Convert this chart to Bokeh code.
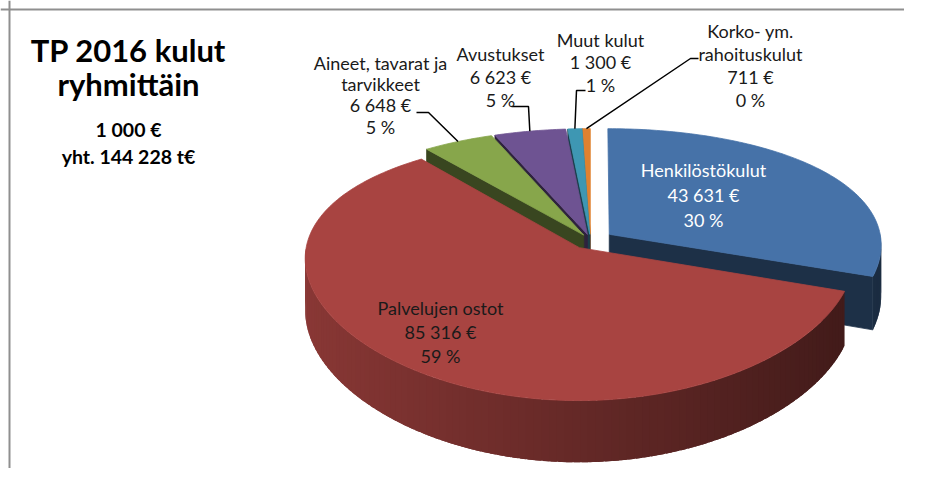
import math
from bokeh.plotting import figure
from bokeh.models import ColumnDataSource, Range1d, Span
from bokeh.embed import file_html
from bokeh.resources import INLINE
from bokeh.core.properties import value

# ---------------- data ----------------
categories = ["Henkilöstökulut", "Palvelujen ostot", "Aineet, tavarat ja tarvikkeet",
              "Avustukset", "Muut kulut", "Korko- ym. rahoituskulut"]
label_names = [["Henkilöstökulut"], ["Palvelujen ostot"], ["Aineet, tavarat ja", "tarvikkeet"],
               ["Avustukset"], ["Muut kulut"], ["Korko- ym.", "rahoituskulut"]]
values = [43631, 85316, 6648, 6623, 1300, 711]
title_lines = ["TP 2016 kulut", "ryhmittäin", "1 000 €", "yht. 144 228 t€"]

# ---------------- style / layout ----------------
colors = ["#4672A8", "#A84441", "#87A64B", "#6E5392", "#3E97B3", "#E0812F"]
explode = [0.085, 0.07, 0.05, 0.05, 0.05, 0.05]
CX, CY, RX, RY, PX, PY, DEPTH = 590, 240, 272, 125, 0.08, 0.165, 51
FONT = "Lato"
W, H = 904, 468
LBL_SIZE, T1_SIZE, T2_SIZE = 18, 31, 19.5
BASE_FIX = 0.43  # renderer places glyph baseline ~0.43em below the anchor
# label anchor: x, first baseline, line step, colour
label_layout = [(703, 177, 25, "white"), (440, 315, 24, "#1a1a1a"), (380, 70, 21.3, "#1a1a1a"),
                (500, 61, 23, "#1a1a1a"), (600, 47, 22.5, "#1a1a1a"), (750, 38, 23, "#1a1a1a")]
# leader line start points (label side), the end lies on the slice rim
leader_start = {2: [(416, 112), (428, 112)], 3: [(511, 106), (528, 106)],
                4: [(585, 90), (576, 90)], 5: [(698, 58), (690, 58)]}


def proj(X, Z, d):
    kx = 1.0 / (1.0 + PX * Z)
    ky = 1.0 / (1.0 + PY * Z)
    return CX + RX * X * kx, CY - RY * Z * ky + DEPTH * d * ky


def shade(hexc, f):
    r, g, b = int(hexc[1:3], 16), int(hexc[3:5], 16), int(hexc[5:7], 16)
    return "#%02x%02x%02x" % tuple(max(0, min(255, int(round(c * f)))) for c in (r, g, b))


total = sum(values)
angles = []
acc = 0.0
for v in values:
    a0 = acc / total * 360.0
    acc += v
    a1 = acc / total * 360.0
    angles.append((a0, a1))

xs, ys, cs, la = [], [], [], []


def add(poly, c, outline=1.0):
    xs.append([p[0] for p in poly])
    ys.append([p[1] for p in poly])
    cs.append(c)
    la.append(outline)


def sl_geom(i):
    a0, a1 = angles[i]
    mid = math.radians((a0 + a1) / 2)
    ox, oz = explode[i] * math.sin(mid), explode[i] * math.cos(mid)

    def rim(t, d):
        r = math.radians(t)
        return proj(math.sin(r) + ox, math.cos(r) + oz, d)

    def cen(d):
        return proj(ox, oz, d)
    return a0, a1, rim, cen


def mid_cos(i):
    a0, a1 = angles[i]
    return math.cos(math.radians((a0 + a1) / 2))


order = sorted(range(len(values)), key=lambda i: -mid_cos(i))
for i in order:
    a0, a1, rim, cen = sl_geom(i)
    col = colors[i]
    face = shade(col, 0.42)
    # radial faces that face the viewer
    if math.sin(math.radians(a0)) < -1e-9:
        add([cen(0), rim(a0, 0), rim(a0, 1), cen(1)], face)
    if math.sin(math.radians(a1)) > 1e-9:
        add([cen(0), rim(a1, 0), rim(a1, 1), cen(1)], face)
    # outer curved side (front half), shaded strips
    s0, s1 = max(a0, 90.0), min(a1, 270.0)
    if s1 > s0:
        n = max(2, int((s1 - s0) / 1.5))
        step = (s1 - s0) / n
        for j in range(n):
            t0 = s0 + step * j
            t1 = min(s1, t0 + step * 1.8)
            tm = math.radians(t0 + step / 2)
            f = 0.60 - 0.22 * math.sin(tm)
            m = 4
            top = [rim(t0 + (t1 - t0) * q / m, 0) for q in range(m + 1)]
            bot = [rim(t1 - (t1 - t0) * q / m, 1) for q in range(m + 1)]
            add(top + bot, shade(col, f), 0.0)
    # top face
    n = max(2, int((a1 - a0) / 1.0))
    poly = [cen(0)] + [rim(a0 + (a1 - a0) * j / n, 0) for j in range(n + 1)]
    add(poly, col)

p = figure(width=W, height=H, output_backend="svg", toolbar_location=None,
           x_range=Range1d(0, W), y_range=Range1d(H, 0), min_border=0,
           background_fill_color="white", border_fill_color="white")
p.axis.visible = False
p.grid.visible = False
p.outline_line_color = None

p.patches(xs="xs", ys="ys", fill_color="c", line_color="c", line_alpha="la", line_width=0.8,
          source=ColumnDataSource(dict(xs=xs, ys=ys, c=cs, la=la)))

# leader lines
lx, ly = [], []
for i, pts in leader_start.items():
    a0, a1, rim, cen = sl_geom(i)
    end = rim((a0 + a1) / 2, 0)
    line = pts + [end]
    lx.append([q[0] for q in line])
    ly.append([q[1] for q in line])
p.multi_line(xs=lx, ys=ly, line_color="black", line_width=1.5)

# data labels
tx, ty, tt, tc = [], [], [], []
for i, names in enumerate(label_names):
    x0, y0, dy, c = label_layout[i]
    pct = round(values[i] / total * 100)
    lines = names + ["{:,}".format(values[i]).replace(",", " ") + " €", "%d %%" % pct]
    for j, s in enumerate(lines):
        tx.append(x0)
        ty.append(y0 + j * dy - BASE_FIX * LBL_SIZE)
        tt.append(s)
        tc.append(c)
p.text(x="x", y="y", text="t", text_color="c", source=ColumnDataSource(dict(x=tx, y=ty, t=tt, c=tc)),
       text_font=value(FONT), text_font_size="%gpx" % LBL_SIZE, text_align="center",
       text_baseline="alphabetic")

# title block
p.text(x=[128, 128], y=[63 - BASE_FIX * T1_SIZE, 97 - BASE_FIX * T1_SIZE], text=title_lines[:2],
       text_font=value(FONT), text_font_style="bold", text_font_size="%gpx" % T1_SIZE,
       text_align="center", text_baseline="alphabetic", text_color="black")
p.text(x=[128, 128], y=[137 - BASE_FIX * T2_SIZE, 164 - BASE_FIX * T2_SIZE], text=title_lines[2:],
       text_font=value(FONT), text_font_style="bold", text_font_size="%gpx" % T2_SIZE,
       text_align="center", text_baseline="alphabetic", text_color="black")

# chart frame (left and top edges visible)
p.add_layout(Span(location=9, dimension="height", line_color="#8f8f8f", line_width=2))
p.add_layout(Span(location=9, dimension="width", line_color="#8f8f8f", line_width=2))

open("out.html", "w").write(file_html(p, INLINE))
